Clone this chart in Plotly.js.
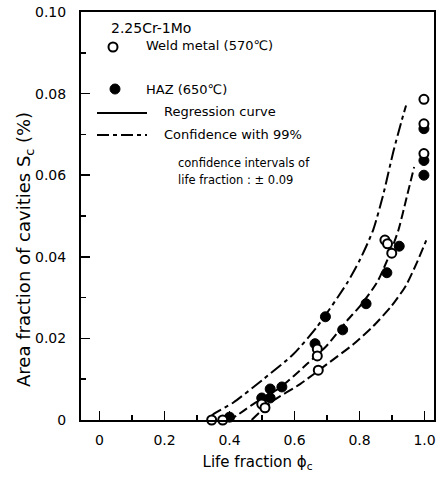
<!DOCTYPE html>
<html>
<head>
<meta charset="utf-8">
<script src="https://cdn.plot.ly/plotly-3.0.1.min.js"></script>
<style>html,body{margin:0;padding:0;background:#fff;}#chart{width:444px;height:477px;}</style>
</head>
<body>
<div id="chart"></div>
<script>
// Weld metal (570°C) - open circles
const weldX = [0.345, 0.379, 0.499, 0.509, 0.670, 0.670, 0.673, 0.878, 0.886, 0.899, 0.998, 0.998, 0.998];
const weldY = [0.0, 0.0, 0.0039, 0.0030, 0.0174, 0.0157, 0.0122, 0.0441, 0.0432, 0.0409, 0.0786, 0.0726, 0.0653];
// HAZ (650°C) - filled circles
const hazX = [0.400, 0.499, 0.525, 0.525, 0.561, 0.663, 0.695, 0.748, 0.820, 0.884, 0.922, 0.998, 0.998, 0.998];
const hazY = [0.0007, 0.0054, 0.0054, 0.0076, 0.0081, 0.0187, 0.0253, 0.0221, 0.0285, 0.0361, 0.0426, 0.0714, 0.0636, 0.0600];
// Regression curve
const regX = [0.395, 0.412, 0.473, 0.555, 0.638, 0.699, 0.761, 0.802, 0.853, 0.889, 0.919, 0.945, 0.968];
const regY = [0.0002, 0.0006, 0.0039, 0.0079, 0.0137, 0.0182, 0.0243, 0.0280, 0.0336, 0.0399, 0.0464, 0.0546, 0.0620];
// Upper confidence (99%)
const upperX = [0.342, 0.350, 0.412, 0.504, 0.596, 0.668, 0.761, 0.802, 0.842, 0.873, 0.904, 0.930, 0.943];
const upperY = [0.0007, 0.0014, 0.0043, 0.0100, 0.0161, 0.0227, 0.0335, 0.0394, 0.0466, 0.0553, 0.0658, 0.0735, 0.0771];
// Lower confidence (99%)
const lowerX = [0.468, 0.530, 0.617, 0.700, 0.780, 0.842, 0.899, 0.943, 0.976, 1.005];
const lowerY = [0.0, 0.0045, 0.0088, 0.0137, 0.0185, 0.0230, 0.0280, 0.0330, 0.0385, 0.0440];
// Tick labels
const xTickVals = [0, 0.2, 0.4, 0.6, 0.8, 1.0];
const xTickText = ["0", "0.2", "0.4", "0.6", "0.8", "1.0"];
const yTickVals = [0, 0.02, 0.04, 0.06, 0.08, 0.10];
const yTickText = ["0", "0.02", "0.04", "0.06", "0.08", "0.10"];

const FONT = "'DejaVu Sans', Arial, sans-serif";
const W = 444, H = 477, ML = 81, MR = 10, MT = 12, MB = 57;
const PW = W - ML - MR, PH = H - MT - MB;
function px(x) { return (x - ML) / PW; }
function py(y) { return (MT + PH - y) / PH; }

const traces = [
  {x: upperX, y: upperY, mode: 'lines', line: {color: '#000', width: 2, dash: '13px,4px,4px,4px', shape: 'spline', smoothing: 0.6}, cliponaxis: false, hoverinfo: 'skip'},
  {x: regX, y: regY, mode: 'lines', line: {color: '#000', width: 2, dash: '9px,4px', shape: 'spline', smoothing: 0.6}, cliponaxis: false, hoverinfo: 'skip'},
  {x: lowerX, y: lowerY, mode: 'lines', line: {color: '#000', width: 2, dash: '10px,4px', shape: 'spline', smoothing: 0.6}, cliponaxis: false, hoverinfo: 'skip'},
  {x: hazX, y: hazY, mode: 'markers', marker: {symbol: 'circle', size: 10, color: '#000', line: {color: '#000', width: 1}}, cliponaxis: false},
  {x: weldX, y: weldY, mode: 'markers', marker: {symbol: 'circle', size: 9, color: '#fff', line: {color: '#000', width: 2}}, cliponaxis: false}
];

function txt(text, x, y, size) {
  return {text: text, xref: 'paper', yref: 'paper', x: px(x), y: py(y), xanchor: 'left', yanchor: 'middle',
          showarrow: false, font: {family: FONT, size: size || 13, color: '#000'}};
}

const layout = {
  width: W, height: H,
  margin: {l: ML, r: MR, t: MT, b: MB},
  paper_bgcolor: '#fff', plot_bgcolor: '#fff',
  showlegend: false,
  font: {family: FONT, color: '#000'},
  xaxis: {
    range: [-0.057, 1.029], showgrid: false, zeroline: false,
    showline: true, linecolor: '#000', linewidth: 2, mirror: true,
    ticks: 'inside', ticklen: 9, tickwidth: 1.5, tickcolor: '#000',
    tickvals: xTickVals, ticktext: xTickText,
    tickfont: {family: FONT, size: 14, color: '#000'}, ticklabelstandoff: 6,
    minor: {dtick: 0.1, tick0: 0, ticks: 'inside', ticklen: 5, tickwidth: 1.5, tickcolor: '#000', showgrid: false},
    title: {text: 'Life fraction ϕ<sub>c</sub>', font: {family: FONT, size: 15, color: '#000'}, standoff: 10}
  },
  yaxis: {
    range: [0, 0.1], showgrid: false, zeroline: false,
    showline: true, linecolor: '#000', linewidth: 2, mirror: true,
    ticks: 'inside', ticklen: 9, tickwidth: 1.5, tickcolor: '#000',
    tickvals: yTickVals, ticktext: yTickText,
    tickfont: {family: FONT, size: 14, color: '#000'}, ticklabelstandoff: 10,
    minor: {dtick: 0.01, tick0: 0, ticks: 'inside', ticklen: 5, tickwidth: 1.5, tickcolor: '#000', showgrid: false}
  },
  shapes: [
    {type: 'circle', xref: 'paper', yref: 'paper', xsizemode: 'pixel', ysizemode: 'pixel',
     xanchor: px(113), yanchor: py(47), x0: -4.5, x1: 4.5, y0: -4.5, y1: 4.5,
     line: {color: '#000', width: 2}, fillcolor: '#fff'},
    {type: 'circle', xref: 'paper', yref: 'paper', xsizemode: 'pixel', ysizemode: 'pixel',
     xanchor: px(115), yanchor: py(89), x0: -5, x1: 5, y0: -5, y1: 5,
     line: {color: '#000', width: 1}, fillcolor: '#000'},
    {type: 'line', xref: 'paper', yref: 'paper', x0: px(97), x1: px(147), y0: py(113), y1: py(113),
     line: {color: '#000', width: 2}},
    {type: 'line', xref: 'paper', yref: 'paper', x0: px(97), x1: px(147), y0: py(135), y1: py(135),
     line: {color: '#000', width: 2, dash: '12px,4px,4px,4px'}}
  ],
  annotations: [
    txt('2.25Cr-1Mo', 109, 28, 14),
    txt('Weld metal (570℃)', 144, 45, 13),
    txt('HAZ (650℃)', 144, 89, 13),
    txt('Regression curve', 162, 111, 13),
    txt('Confidence with 99%', 162, 134, 13),
    txt('confidence intervals of', 176, 163, 11.5),
    txt('life fraction : ± 0.09', 176, 180, 11.5),
    {text: 'Area fraction of cavities S<sub>c</sub> (%)', xref: 'paper', yref: 'paper',
     x: px(25), y: py(250), xanchor: 'center', yanchor: 'middle', textangle: -90,
     showarrow: false, font: {family: FONT, size: 18, color: '#000'}}
  ]
};

Plotly.newPlot('chart', traces, layout, {staticPlot: true, displayModeBar: false});
</script>
</body>
</html>
